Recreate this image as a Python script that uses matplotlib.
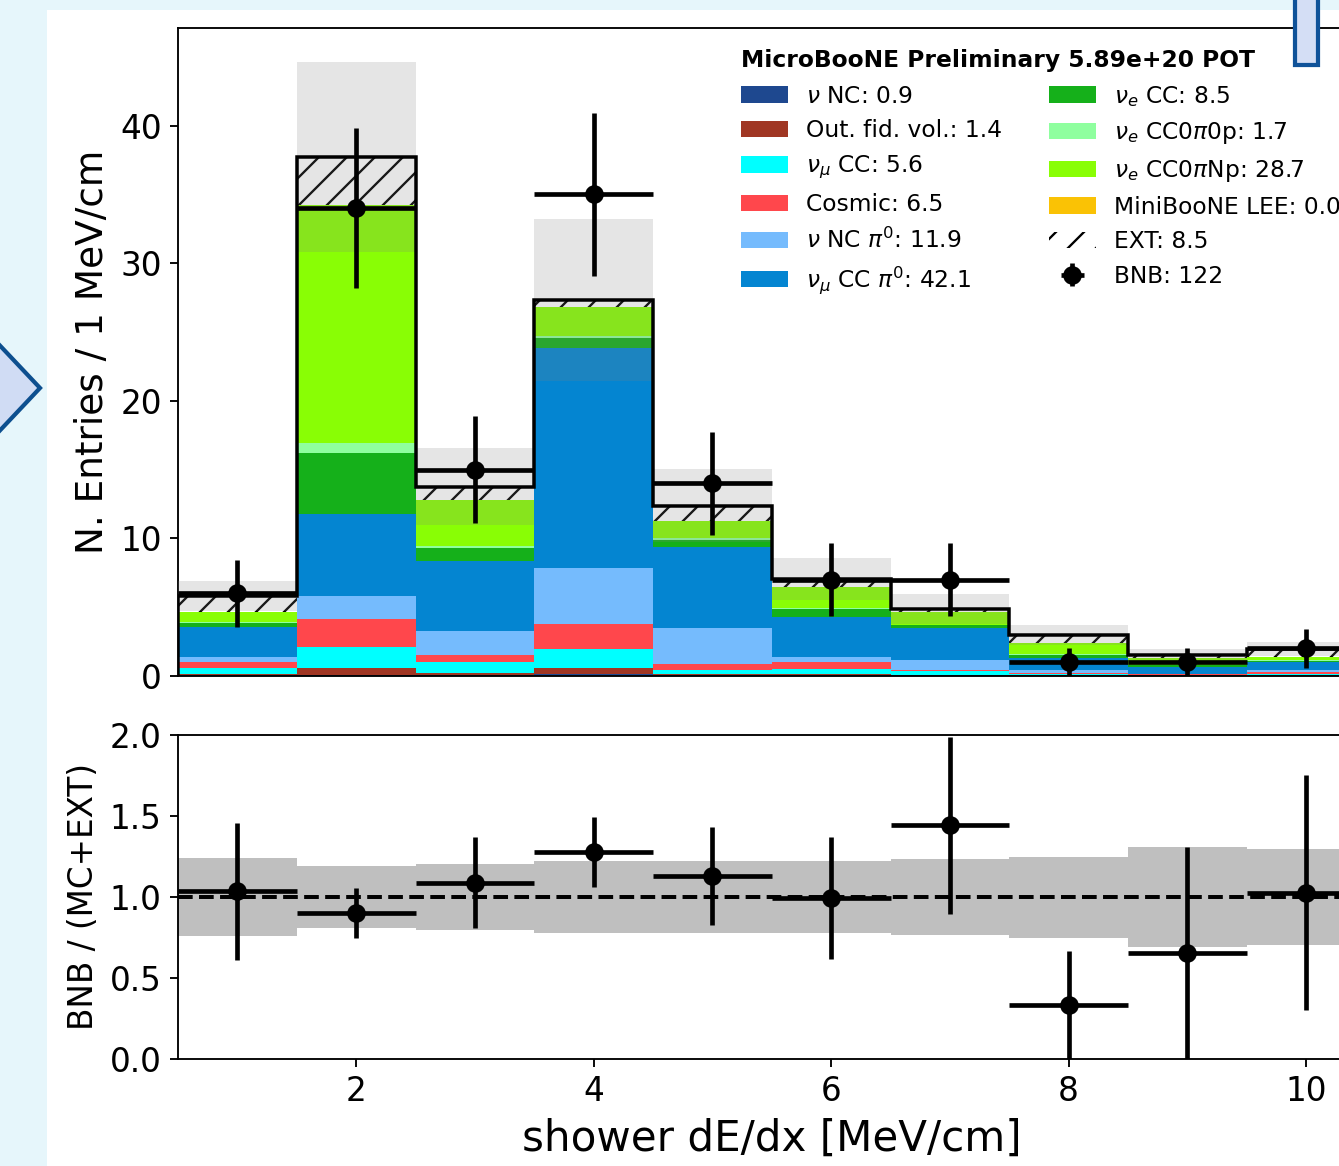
import numpy as np
import matplotlib
matplotlib.use("Agg")
import matplotlib.pyplot as plt
import matplotlib.patches as mpatches

# bin centres / edges of shower dE/dx [MeV/cm]
centers = np.arange(1, 11)
edges = np.arange(0.5, 11.0, 1.0)

# stacked MC components, events per bin, bottom -> top
nu_nc    = [0.10, 0.10, 0.10, 0.15, 0.10, 0.10, 0.05, 0.05, 0.05, 0.05]
out_fv   = [0.05, 0.50, 0.10, 0.45, 0.05, 0.05, 0.05, 0.05, 0.00, 0.05]
numu_cc  = [0.40, 1.50, 0.80, 1.35, 0.30, 0.35, 0.25, 0.05, 0.05, 0.05]
cosmic   = [0.45, 2.05, 0.55, 1.85, 0.40, 0.50, 0.10, 0.10, 0.02, 0.12]
nc_pi0   = [0.40, 1.70, 1.75, 4.05, 2.65, 0.40, 0.70, 0.15, 0.05, 0.20]
numu_pi0 = [2.15, 5.90, 5.05, 16.0, 5.85, 2.90, 2.35, 0.90, 0.52, 0.57]
nue_cc   = [0.28, 4.45, 0.93, 0.75, 0.52, 0.55, 0.19, 0.23, 0.11, 0.06]
nue_0p   = [0.07, 0.77, 0.17, 0.10, 0.13, 0.10, 0.05, 0.05, 0.03, 0.05]
nue_np   = [0.78, 17.23, 3.35, 2.10, 1.27, 1.55, 0.94, 0.80, 0.47, 0.25]
lee      = [0.0] * 10
ext      = [1.12, 3.55, 0.97, 0.55, 1.12, 0.55, 0.17, 0.62, 0.23, 0.55]

# systematic band half-widths
mc_err    = [1.10, 6.90, 2.80, 5.90, 2.65, 1.50, 1.10, 0.73, 0.45, 0.50]
ratio_err = [0.24, 0.19, 0.205, 0.225, 0.225, 0.225, 0.233, 0.25, 0.31, 0.298]

# BNB data
data = [6, 34, 15, 35, 14, 7, 7, 1, 1, 2]

comps = [
    (nu_nc,    "#1e488f", r"$\nu$ NC: 0.9"),
    (out_fv,   "#a03623", "Out. fid. vol.: 1.4"),
    (numu_cc,  "#00ffff", r"$\nu_\mu$ CC: 5.6"),
    (cosmic,   "#ff474c", "Cosmic: 6.5"),
    (nc_pi0,   "#75bbfd", r"$\nu$ NC $\pi^0$: 11.9"),
    (numu_pi0, "#0485d1", r"$\nu_\mu$ CC $\pi^0$: 42.1"),
    (nue_cc,   "#15b01a", r"$\nu_e$ CC: 8.5"),
    (nue_0p,   "#8fff9f", r"$\nu_e$ CC0$\pi$0p: 1.7"),
    (nue_np,   "#89fe05", r"$\nu_e$ CC0$\pi$Np: 28.7"),
    (lee,      "#fac205", "MiniBooNE LEE: 0.0"),
]

plt.rcParams["hatch.color"] = "k"
plt.rcParams["hatch.linewidth"] = 1.0

DPI = 168
W, H = 1339, 1166
fig = plt.figure(figsize=(W / DPI, H / DPI), dpi=DPI, facecolor="#e6f6fb")

# slide decoration: white panel, chevron at left, tab at top right
fig.patches.append(mpatches.Rectangle((47 / W, 0), 1, 1 - 10 / H, transform=fig.transFigure,
                                      facecolor="white", edgecolor="none", zorder=-10))

left, width = 178 / W, 1187.5 / W
ax = fig.add_axes([left, 490 / H, width, 648 / H])
axr = fig.add_axes([left, 107 / H, width, 324 / H], sharex=ax)

bottom = np.zeros(10)
handles = []
for vals, col, lab in comps:
    vals = np.array(vals)
    ax.bar(centers, vals, width=1.0, bottom=bottom, color=col, lw=0, zorder=2)
    bottom = bottom + vals
    handles.append(mpatches.Patch(facecolor=col, label=lab))
mc = bottom.copy()

ax.bar(centers, ext, width=1.0, bottom=mc, fill=False, hatch="//", edgecolor="k", lw=0, zorder=3)
total = mc + np.array(ext)
ext_h = mpatches.Patch(facecolor="none", hatch="//", edgecolor="k", lw=0, label="EXT: 8.5")

err = np.array(mc_err)
ax.bar(centers, 2 * err, width=1.0, bottom=total - err, color="grey", alpha=0.2, lw=0, zorder=4)
ax.stairs(total, edges, color="k", lw=1.5, zorder=5)

data = np.array(data, dtype=float)
eb = ax.errorbar(centers, data, xerr=0.5, yerr=np.sqrt(data), fmt="o", color="k",
                 ms=7, lw=2, capsize=0, zorder=6, label="BNB: 122")

ax.set_xlim(0.5, 10.5)
ax.set_ylim(0, 47.1)
ax.set_yticks([0, 10, 20, 30, 40])
ax.tick_params(axis="x", bottom=False, labelbottom=False)
ax.tick_params(axis="y", labelsize=14)
ax.set_ylabel("N. Entries / 1 MeV/cm", fontsize=16)

order = handles + [ext_h, eb]
leg = ax.legend(handles=order, ncol=2, loc="upper left", bbox_to_anchor=(0.4564, 1.0),
                frameon=False, fontsize=10, title="MicroBooNE Preliminary 5.89e+20 POT",
                title_fontproperties={"weight": "bold", "size": 10}, alignment="left")

# ratio panel
ratio = data / total
rerr = np.sqrt(data) / total
rband = np.array(ratio_err)
axr.bar(centers, 2 * rband, width=1.0, bottom=1 - rband, color="grey", alpha=0.5, lw=0, zorder=1)
axr.axhline(1.0, color="k", ls="--", lw=1.7, zorder=2)
axr.errorbar(centers, ratio, xerr=0.5, yerr=rerr, fmt="o", color="k", ms=7, lw=2,
             capsize=0, zorder=3)
axr.set_ylim(0, 2)
axr.set_yticks([0.0, 0.5, 1.0, 1.5, 2.0])
axr.set_xticks([2, 4, 6, 8, 10])
axr.tick_params(labelsize=14)
axr.set_ylabel("BNB / (MC+EXT)", fontsize=14)
axr.set_xlabel("shower dE/dx [MeV/cm]", fontsize=18)

chev = [(-10 / W, 1 - 335 / H), (40 / W, 1 - 388 / H), (-10 / W, 1 - 441 / H)]
fig.patches.append(mpatches.Polygon(chev, closed=True, transform=fig.transFigure,
                                    facecolor="#d0dcf4", edgecolor="#0d4f8f", lw=1.8, zorder=10))
fig.patches.append(mpatches.Rectangle((1295 / W, 1 - 65 / H), 23 / W, 80 / H, transform=fig.transFigure,
                                      facecolor="#d4def5", edgecolor="#0f5299", lw=1.8, zorder=10))

fig.savefig("out.png", dpi=DPI, facecolor=fig.get_facecolor())
